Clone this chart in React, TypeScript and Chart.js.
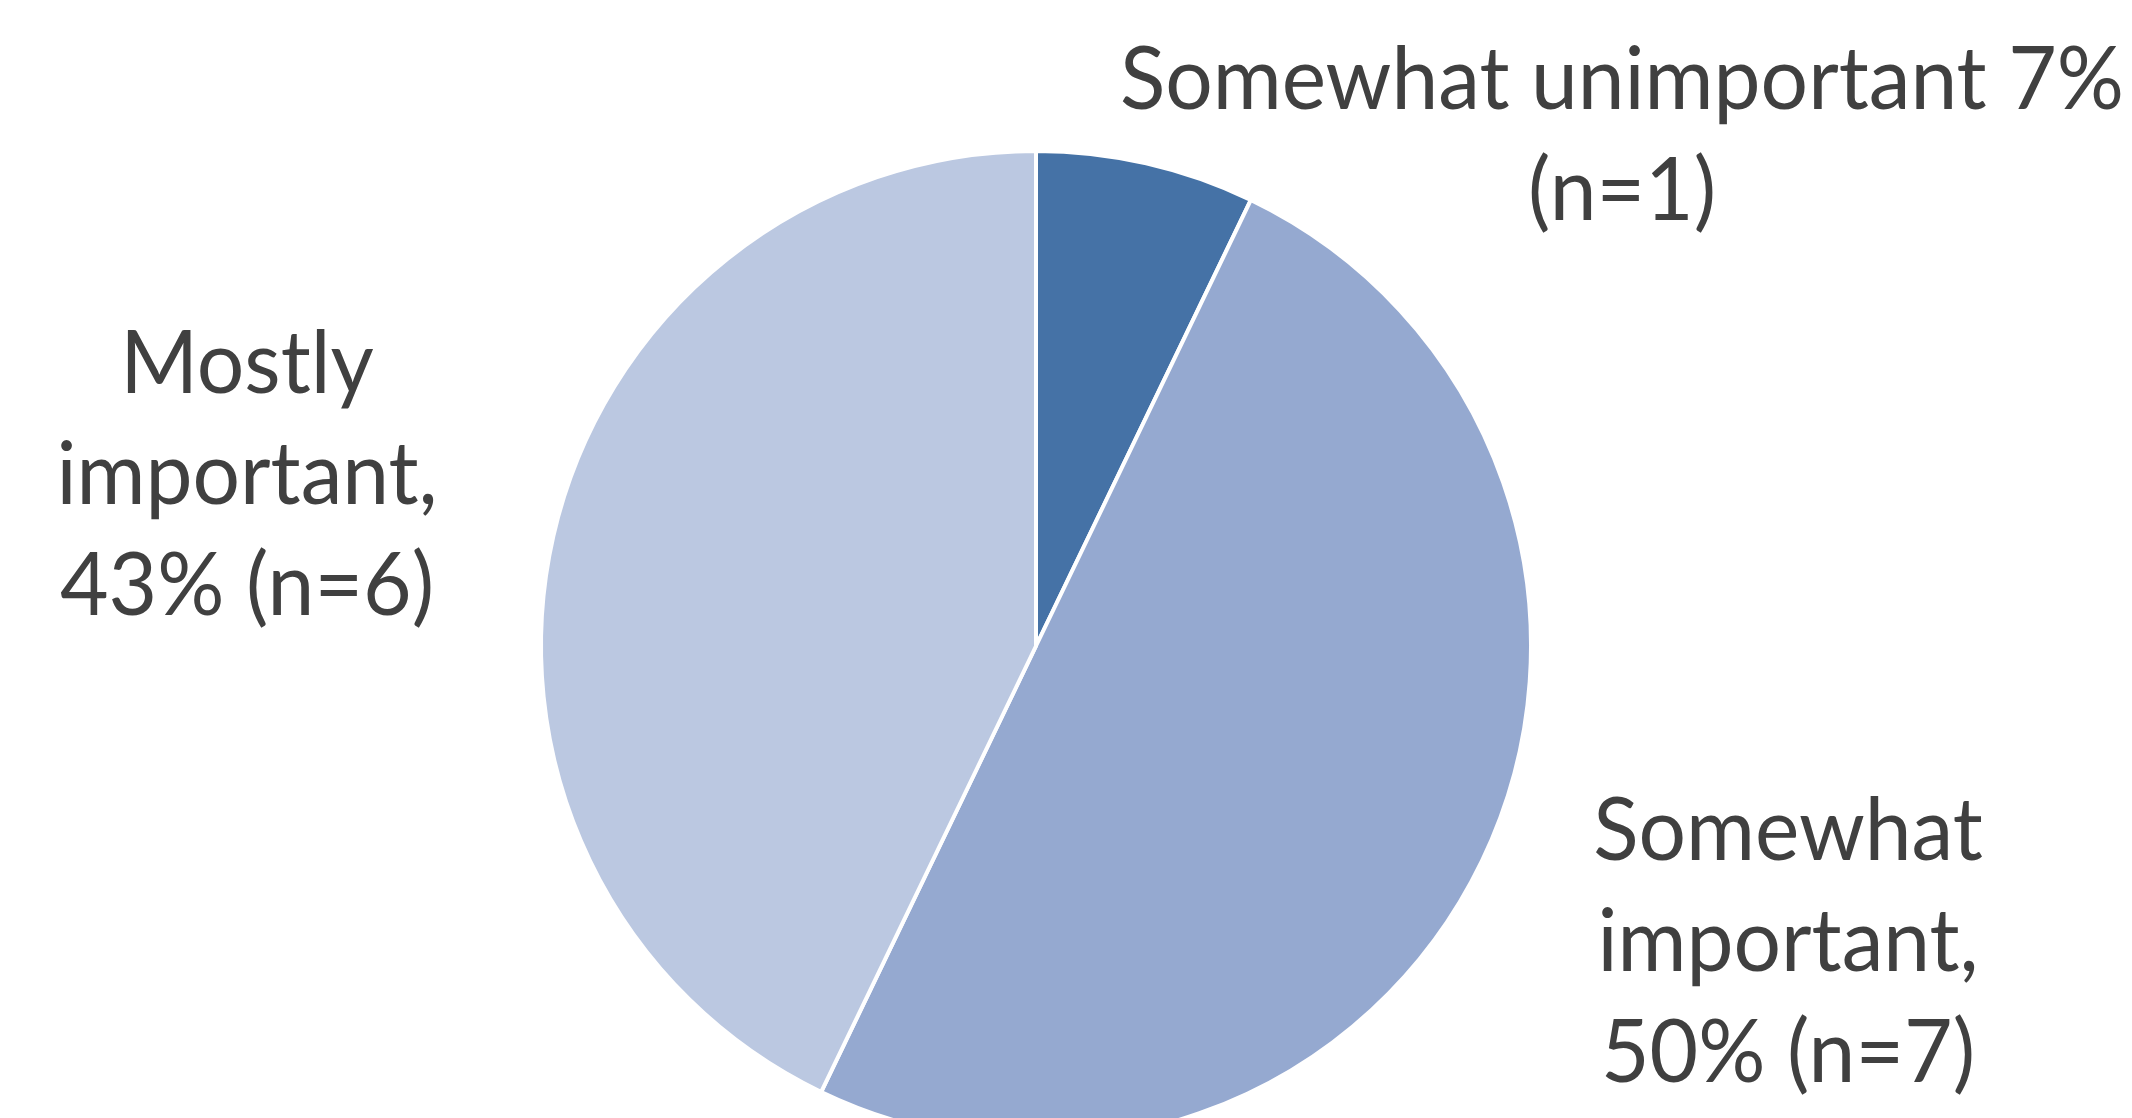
import React, { useEffect, useRef } from "react";
import { Chart, registerables } from "chart.js";

Chart.register(...registerables);

const categories = ["Somewhat unimportant", "Somewhat important", "Mostly important"];
const counts = [1, 7, 6];
const sliceColors = ["#4572A6", "#95A9D0", "#BBC8E1"];
const labelLines = [
  ["Somewhat unimportant 7%", "(n=1)"],
  ["Somewhat", "important,", "50% (n=7)"],
  ["Mostly", "important,", "43% (n=6)"],
];

// layout (pixels) for label blocks: center x, first baseline y
const labelAnchors = [
  { x: 1622, y: 109 },
  { x: 1788, y: 860 },
  { x: 247, y: 393 },
];
const LINE_GAP = 111;
const FONT_SIZE = 88;
const FONT_FAMILY = "Lato, 'Open Sans', sans-serif";
const REF_WIDTH = 1004; // width of the first line in the reference

const labelPlugin = {
  id: "sliceLabels",
  afterDraw(chart: any) {
    const ctx = chart.ctx as CanvasRenderingContext2D;
    ctx.save();
    ctx.font = `${FONT_SIZE}px ${FONT_FAMILY}`;
    ctx.fillStyle = "#404040";
    ctx.textAlign = "center";
    ctx.textBaseline = "alphabetic";
    const w = ctx.measureText(labelLines[0][0]).width;
    const k = Math.min(1, REF_WIDTH / w);
    labelLines.forEach((lines, i) => {
      const a = labelAnchors[i];
      lines.forEach((line, j) => {
        ctx.save();
        ctx.translate(a.x, a.y + j * LINE_GAP);
        ctx.scale(k, 1);
        ctx.fillText(line, 0, 0);
        ctx.restore();
      });
    });
    ctx.restore();
  },
};

export default function App() {
  const ref = useRef<HTMLCanvasElement | null>(null);
  useEffect(() => {
    if (!ref.current) return;
    const chart = new Chart(ref.current, {
      type: "pie",
      data: {
        labels: categories,
        datasets: [
          {
            data: counts,
            backgroundColor: sliceColors,
            borderColor: "#FFFFFF",
            borderWidth: 4,
          },
        ],
      },
      options: {
        responsive: false,
        animation: false,
        devicePixelRatio: 1,
        radius: 495,
        layout: { padding: { top: 174, bottom: 0, left: 0, right: 60 } },
        plugins: {
          legend: { display: false },
          tooltip: { enabled: false },
        },
      } as any,
      plugins: [labelPlugin],
    });
    return () => chart.destroy();
  }, []);
  return (
    <div style={{ position: "fixed", left: 0, top: 0, width: 2132, height: 1118, overflow: "hidden", background: "#fff" }}>
      <canvas ref={ref} width={2132} height={1118} style={{ width: 2132, height: 1118, display: "block" }} />
    </div>
  );
}
